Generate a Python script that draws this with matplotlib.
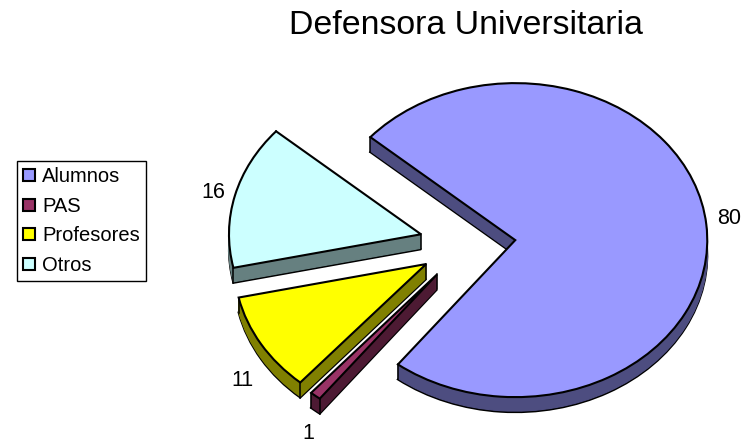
import matplotlib
matplotlib.use('Agg')
import numpy as np
import matplotlib.pyplot as plt

plt.rcParams['font.family'] = ['Liberation Sans', 'DejaVu Sans']

categories = ['Alumnos', 'PAS', 'Profesores', 'Otros']
values = [80, 1, 11, 16]
top_colors = ['#9999FF', '#993366', '#FFFF00', '#CCFFFF']
wall_colors = ['#4D4D80', '#4D1A33', '#808000', '#668080']
explode = [0.25, 0.25, 0.25, 0.25]
label_pos = [(729, 218), (308, 433), (242, 380), (213, 192)]

W, H = 751, 444
cx, cy = 467.5, 244
rx, ry = 192, 157
depth = 15

fig = plt.figure(figsize=(W / 100, H / 100), dpi=100)
ax = fig.add_axes([0, 0, 1, 1])

# side walls: the same pie stacked downwards
for d in range(depth, 0, -1):
    wedges, _ = ax.pie(values, colors=wall_colors, explode=explode, startangle=139,
                       counterclock=False, center=(0, -d / ry),
                       wedgeprops={'linewidth': 1.5 if d == depth else 0.8, 'zorder': 0.5})
    for w in wedges:
        # same colour edge so thin slices stay solid, black only on the lowest layer
        w.set_edgecolor('black' if d == depth else w.get_facecolor())

# upright edges at the slice corners, the top pie hides the ones behind it
for w in wedges:
    tx, ty = w.center[0], w.center[1] + 1 / ry
    for a in (w.theta1, w.theta2):
        x = tx + np.cos(np.radians(a))
        y = ty + np.sin(np.radians(a))
        ax.plot([x, x], [y, y - depth / ry], color='black', lw=1.1, zorder=0.8)
    ax.plot([tx, tx], [ty, ty - depth / ry], color='black', lw=1.1, zorder=0.8)

top, _ = ax.pie(values, colors=top_colors, explode=explode, startangle=139,
                counterclock=False, wedgeprops={'linewidth': 1.5, 'edgecolor': 'black'})

ax.set_aspect('auto')
ax.set_xlim(-cx / rx, (W - cx) / rx)
ax.set_ylim(-(H - cy) / ry, cy / ry)
ax.axis('off')

# value labels in pixel position
for v, (px, py) in zip(values, label_pos):
    ax.text(px / W, 1 - py / H, str(v), transform=ax.transAxes, ha='center', va='center',
            fontsize=15.5, color='black')

ax.text(466 / W, 1 - 26 / H, 'Defensora Universitaria', transform=ax.transAxes,
        ha='center', va='center', fontsize=24.4, color='black')

leg = ax.legend(top, categories, loc='upper left', bbox_to_anchor=(17 / W, 1 - 161 / H),
                borderaxespad=0, fontsize=14.5, frameon=True, fancybox=False,
                edgecolor='black', framealpha=1, handlelength=0.55, handleheight=0.55,
                handletextpad=0.38, labelspacing=0.52, borderpad=0.32)
leg.get_frame().set_linewidth(1)

fig.savefig('out.png', dpi=100)
